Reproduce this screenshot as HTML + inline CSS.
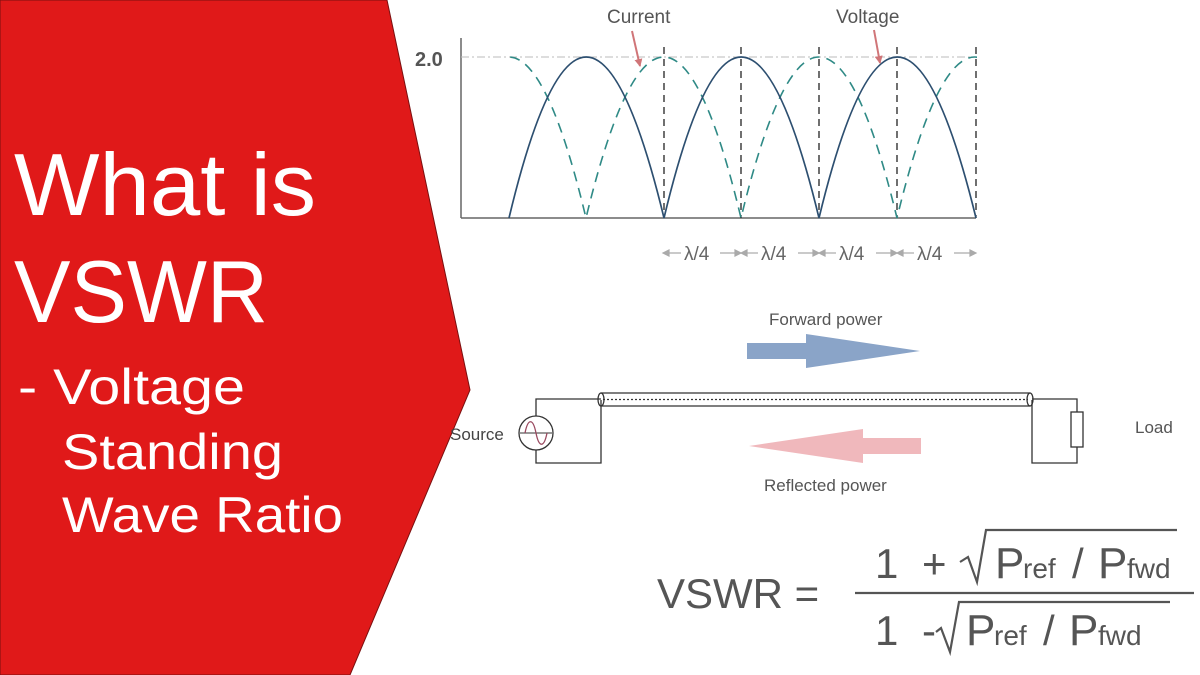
<!DOCTYPE html>
<html><head><meta charset="utf-8"><style>
html,body{margin:0;padding:0;background:#fff;}
svg{display:block;font-family:"Liberation Sans",sans-serif;}
</style></head><body>
<svg width="1200" height="675" viewBox="0 0 1200 675" xmlns="http://www.w3.org/2000/svg">
<defs>
<clipPath id="c"><rect x="505" y="40" width="472" height="180"/></clipPath>
<marker id="ah" markerWidth="8" markerHeight="8" refX="7" refY="4" orient="auto" markerUnits="userSpaceOnUse"><path d="M0,0 L8,4 L0,8 z" fill="#d07578"/></marker>
</defs>
<polygon points="0,0 387,0 470,390 350,675 0,675" fill="#e01919" stroke="#7a1010" stroke-width="1"/>
<g fill="#fff" font-size="88">
<text x="14" y="215" textLength="302" lengthAdjust="spacingAndGlyphs">What is</text>
<text x="14" y="322" textLength="254" lengthAdjust="spacingAndGlyphs">VSWR</text>
</g>
<g fill="#fff" font-size="50">
<text x="18" y="404" textLength="227" lengthAdjust="spacingAndGlyphs">-  Voltage</text>
<text x="62" y="469" textLength="221" lengthAdjust="spacingAndGlyphs">Standing</text>
<text x="62" y="532" textLength="281" lengthAdjust="spacingAndGlyphs">Wave Ratio</text>
</g>

<!-- chart -->
<text x="415" y="66" font-size="20" font-weight="bold" fill="#555">2.0</text>
<line x1="461" y1="38" x2="461" y2="218" stroke="#666" stroke-width="1.5"/>
<line x1="461" y1="218" x2="976" y2="218" stroke="#666" stroke-width="1.5"/>
<line x1="461" y1="57" x2="976" y2="57" stroke="#bbb" stroke-width="1" stroke-dasharray="8,3,2,3"/>
<g stroke="#222" stroke-width="1.3" stroke-dasharray="7,5">
<line x1="664" y1="47" x2="664" y2="218"/><line x1="741" y1="47" x2="741" y2="218"/>
<line x1="819" y1="47" x2="819" y2="218"/><line x1="897" y1="47" x2="897" y2="218"/>
<line x1="976" y1="47" x2="976" y2="218"/>
</g>
<g clip-path="url(#c)" fill="none">
<path d="M431,218 Q509,-104 586,218 Q664,-104 741,218 Q819,-104 897,218 Q975,-104 1052,218" stroke="#2f8a86" stroke-width="1.6" stroke-dasharray="10,7"/>
<path d="M509,218 Q586,-104 664,218 Q741,-104 819,218 Q897,-104 976,218" stroke="#2d4f70" stroke-width="1.7"/>
</g>
<text x="607" y="23" font-size="19" fill="#555">Current</text>
<text x="836" y="23" font-size="19" fill="#555">Voltage</text>
<line x1="632" y1="31" x2="640" y2="66" stroke="#d07578" stroke-width="2" marker-end="url(#ah)"/>
<line x1="874" y1="30" x2="880" y2="63" stroke="#d07578" stroke-width="2" marker-end="url(#ah)"/>
<g font-size="19" fill="#666">
<text x="684" y="260">λ/4</text><text x="761" y="260">λ/4</text>
<text x="839" y="260">λ/4</text><text x="917" y="260">λ/4</text>
</g>
<g stroke="#aaa" stroke-width="1.2" fill="#aaa">
<line x1="664" y1="253" x2="681" y2="253"/><path d="M663,253 l6,-3 v6z"/>
<line x1="720" y1="253" x2="738" y2="253"/><path d="M741,253 l-6,-3 v6z"/>
<line x1="742" y1="253" x2="758" y2="253"/><path d="M741,253 l6,-3 v6z"/>
<line x1="798" y1="253" x2="816" y2="253"/><path d="M819,253 l-6,-3 v6z"/>
<line x1="820" y1="253" x2="836" y2="253"/><path d="M819,253 l6,-3 v6z"/>
<line x1="876" y1="253" x2="894" y2="253"/><path d="M897,253 l-6,-3 v6z"/>
<line x1="898" y1="253" x2="914" y2="253"/><path d="M897,253 l6,-3 v6z"/>
<line x1="954" y1="253" x2="973" y2="253"/><path d="M976,253 l-6,-3 v6z"/>
</g>

<!-- circuit -->
<text x="769" y="325" font-size="17" fill="#555">Forward power</text>
<path d="M747,343 H806 V334 L920,351 L806,368 V359 H747 Z" fill="#8aa4c8"/>
<path d="M749,446 L863,429 V438 H921 V454 H863 V463 Z" fill="#f0b8bc"/>
<text x="764" y="491" font-size="17" fill="#555">Reflected power</text>
<g stroke="#333" stroke-width="1.3" fill="none">
<line x1="601" y1="393" x2="1030" y2="393"/>
<line x1="601" y1="406" x2="1030" y2="406"/>
<ellipse cx="601" cy="399.5" rx="3" ry="6.5"/>
<ellipse cx="1030" cy="399.5" rx="3" ry="6.5"/>
<line x1="603" y1="399.5" x2="1028" y2="399.5" stroke-dasharray="2,2"/>
<path d="M601,400 V463 H536 V399 H601"/>
<path d="M1032,400 V463 H1077 V399 H1032"/>
<circle cx="536" cy="433" r="17" fill="#fff"/>
<rect x="1071" y="412" width="12" height="35" fill="#fff"/>
<line x1="520" y1="433" x2="552" y2="433" stroke-width="1"/>
<path d="M525,433 C528,418 533,418 536,433 C539,448 544,448 547,433" stroke="#9a4a60"/>
</g>
<text x="450" y="440" font-size="17" fill="#444">Source</text>
<text x="1135" y="433" font-size="17" fill="#555">Load</text>

<!-- formula -->
<g fill="#555">
<text x="657" y="608" font-size="42">VSWR =</text>
<text x="875" y="578" font-size="42">1</text>
<text x="922" y="578" font-size="42">+</text>
<text x="995" y="578" font-size="44">P</text><text x="1023" y="578" font-size="28">ref</text>
<text x="1072" y="578" font-size="42">/</text>
<text x="1098" y="578" font-size="44">P</text><text x="1127" y="578" font-size="28">fwd</text>
<text x="875" y="645" font-size="42">1</text>
<text x="922" y="645" font-size="42">-</text>
<text x="966" y="645" font-size="44">P</text><text x="994" y="645" font-size="28">ref</text>
<text x="1043" y="645" font-size="42">/</text>
<text x="1069" y="645" font-size="44">P</text><text x="1098" y="645" font-size="28">fwd</text>
</g>
<g stroke="#555" stroke-width="2.2" fill="none">
<line x1="855" y1="593" x2="1194" y2="593"/>
<path d="M960,562 L968,557 L977,582 L986,530 H1177"/>
<path d="M936,632 L941,628 L950,652 L959,602 H1170"/>
</g>
</svg>
</body></html>
